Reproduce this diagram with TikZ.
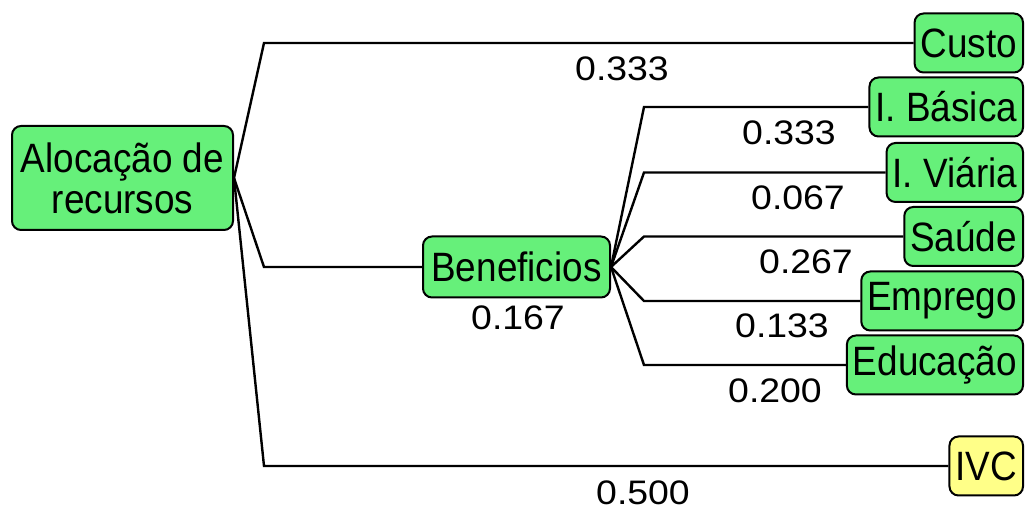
\documentclass[tikz,border=0pt]{standalone}
\usepackage{fontspec}
\setmainfont{Liberation Sans}[FakeStretch=0.9]
\newfontfamily\weightfont{Liberation Sans}[FakeStretch=1.1]
\usetikzlibrary{positioning}

\definecolor{boxgreen}{RGB}{102,240,122}
\definecolor{boxyellow}{RGB}{255,255,136}

\begin{document}
\begin{tikzpicture}[x=1pt, y=-1pt,
    box/.style={rectangle, draw=black, fill=boxgreen, line width=2pt, rounded corners=9pt, inner xsep=6pt, minimum height=59pt, font=\fontsize{41}{41}\selectfont},
    link/.style={draw=black, line width=2.4pt, line join=miter},
    weight/.style={font=\weightfont\fontsize{34}{34}\selectfont, inner sep=0pt}
]
    \useasboundingbox (0,0) rectangle (1029,510);

    % goal and criteria
    \node[box, align=center, minimum width=221pt, minimum height=104pt] (root) at (122.5,178) {Alocação de\\recursos};
    \node[box, minimum width=187pt, minimum height=61pt] (ben) at (516.5,267) {Beneficios};
    \node[box, anchor=east] (custo) at (1024,43) {Custo};
    \node[box, anchor=east, fill=boxyellow] (ivc) at (1024,466) {IVC};

    % sub-criteria of Beneficios
    \node[box, anchor=east] (basica) at (1024,107) {I. Básica};
    \node[box, anchor=east] (viaria) at (1024,172.5) {I. Viária};
    \node[box, anchor=east] (saude) at (1024,236.5) {Saúde};
    \node[box, anchor=east] (emprego) at (1024,301) {Emprego};
    \node[box, anchor=east] (educ) at (1024,365) {Educação};

    \coordinate (rootfork) at (264,0);
    \coordinate (benfork) at (644,0);

    \draw[link] (root.east) -- (rootfork |- custo.west) -- (custo.west);
    \draw[link] (root.east) -- (rootfork |- ben.west) -- (ben.west);
    \draw[link] (root.east) -- (rootfork |- ivc.west) -- (ivc.west);

    \draw[link] (ben.east) -- (benfork |- basica.west) -- (basica.west);
    \draw[link] (ben.east) -- (benfork |- viaria.west) -- (viaria.west);
    \draw[link] (ben.east) -- (benfork |- saude.west) -- (saude.west);
    \draw[link] (ben.east) -- (benfork |- emprego.west) -- (emprego.west);
    \draw[link] (ben.east) -- (benfork |- educ.west) -- (educ.west);

    % weights
    \node[weight] (wcusto) at (622,68.5) {0.333};
    \node[weight] (wben) at (518,318) {0.167};
    \node[weight] (wivc) at (643,493) {0.500};
    \node[weight] (wbasica) at (789,133) {0.333};
    \node[weight] (wviaria) at (798,198) {0.067};
    \node[weight] (wsaude) at (806,262) {0.267};
    \node[weight] (wemprego) at (782,326) {0.133};
    \node[weight] (weduc) at (775,391) {0.200};
\end{tikzpicture}
\end{document}
